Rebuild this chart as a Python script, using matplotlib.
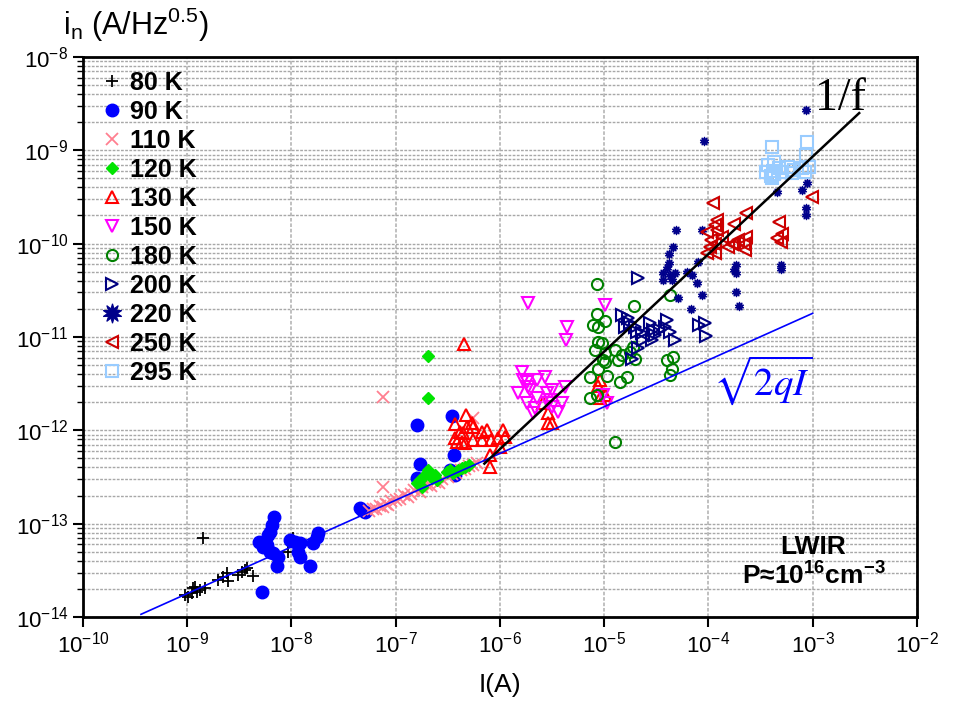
import matplotlib
matplotlib.use("Agg")
import matplotlib.pyplot as plt
from matplotlib import ticker

plt.rcParams["font.family"] = ["Liberation Sans", "DejaVu Sans"]
plt.rcParams["mathtext.fontset"] = "custom"
plt.rcParams["mathtext.rm"] = "Liberation Sans"
plt.rcParams["mathtext.it"] = "Liberation Sans:italic"
plt.rcParams["mathtext.bf"] = "Liberation Sans:bold"

# ---- data (I in A, i_n in A/Hz^0.5) ----
I_80 = [9.5e-10, 1.02e-9, 1.11e-9, 1.13e-9, 1.19e-9, 1.24e-9, 1.32e-9, 1.48e-9, 1.97e-9, 2.2e-9,
        2.4e-9, 2.45e-9, 3.06e-9, 3.35e-9, 3.57e-9, 3.74e-9, 4.27e-9, 1.41e-9, 1.03e-8, 9.2e-9]
n_80 = [1.72e-14, 1.64e-14, 1.81e-14, 2.05e-14, 2.1e-14, 1.85e-14, 1.95e-14, 2.05e-14, 2.49e-14, 2.68e-14,
        2.96e-14, 2.43e-14, 2.82e-14, 3.04e-14, 3.19e-14, 3.35e-14, 2.75e-14, 7.0e-14, 7.0e-14, 4.97e-14]

I_90 = [6.8e-9, 6.5e-9, 6.2e-9, 5.9e-9, 4.9e-9, 5.3e-9, 5.8e-9, 6.2e-9, 6.6e-9, 7.4e-9, 7.2e-9, 5.2e-9,
        9.7e-9, 1.08e-8, 1.2e-8, 1.15e-8, 1.2e-8, 1.5e-8, 1.6e-8, 1.75e-8, 1.79e-8, 4.5e-8, 5.1e-8, 4.8e-8,
        1.6e-7, 1.7e-7, 1.6e-7, 3.5e-7, 3.6e-7, 3.7e-7, 3.3e-7]
n_90 = [1.18e-13, 9.7e-14, 8.1e-14, 7.6e-14, 6.4e-14, 5.6e-14, 5.9e-14, 5.0e-14, 4.85e-14, 4.4e-14, 3.5e-14, 1.85e-14,
        6.7e-14, 6.4e-14, 6.2e-14, 5.0e-14, 4.4e-14, 3.5e-14, 6.2e-14, 7.2e-14, 7.9e-14, 1.47e-13, 1.33e-13, 1.4e-13,
        1.14e-12, 4.4e-13, 3.1e-13, 1.43e-12, 5.4e-13, 3.3e-13, 3.8e-13]

I_110 = [5.5e-8, 6.0e-8, 6.5e-8, 7.0e-8, 7.5e-8, 8.0e-8, 8.5e-8, 9.0e-8, 1.0e-7, 1.1e-7, 1.2e-7, 1.3e-7,
         1.4e-7, 1.5e-7, 1.7e-7, 1.8e-7, 2.0e-7, 2.2e-7, 2.4e-7, 2.6e-7, 2.8e-7, 3.2e-7, 3.5e-7, 3.8e-7,
         4.2e-7, 4.6e-7, 5.0e-7, 5.5e-7, 6.0e-7, 7.5e-8, 7.5e-8, 5.5e-7]
n_110 = [1.38e-13, 1.45e-13, 1.42e-13, 1.55e-13, 1.5e-13, 1.62e-13, 1.58e-13, 1.75e-13, 1.8e-13, 1.85e-13, 2.05e-13, 1.95e-13,
         2.1e-13, 2.3e-13, 2.2e-13, 2.45e-13, 2.6e-13, 2.55e-13, 2.8e-13, 2.75e-13, 3.0e-13, 3.15e-13, 3.4e-13, 3.5e-13,
         3.75e-13, 3.9e-13, 4.1e-13, 4.3e-13, 4.5e-13, 2.28e-12, 2.5e-13, 1.36e-12]

I_120 = [1.6e-7, 1.7e-7, 1.82e-7, 1.99e-7, 2.03e-7, 2.22e-7, 2.37e-7, 2.48e-7, 1.78e-7, 3.09e-7, 3.3e-7,
         3.53e-7, 3.94e-7, 4.3e-7, 4.6e-7, 5.1e-7, 2.03e-7, 2.03e-7]
n_120 = [2.73e-13, 2.94e-13, 3.17e-13, 3.49e-13, 3.76e-13, 3.09e-13, 3.3e-13, 2.94e-13, 2.47e-13, 3.58e-13, 3.76e-13,
         3.49e-13, 3.76e-13, 3.95e-13, 4.05e-13, 4.26e-13, 6.3e-12, 2.22e-12]

I_130 = [4.5e-7, 4.7e-7, 3.7e-7, 4.8e-7, 5.4e-7, 5.5e-7, 4.1e-7, 4.4e-7, 3.7e-7, 3.85e-7, 4.3e-7, 4.6e-7,
         5.5e-7, 6.8e-7, 7.6e-7, 6.7e-7, 8.3e-7, 9.5e-7, 1.06e-6, 1.11e-6, 1.0e-6, 8.0e-7, 8.0e-7, 2.57e-6,
         2.87e-6, 2.87e-6, 3.14e-6, 9.1e-6, 8.7e-6, 9.1e-6, 1.01e-5]
n_130 = [8.4e-12, 1.46e-12, 1.17e-12, 1.09e-12, 1.2e-12, 1.09e-12, 9.6e-13, 9.4e-13, 8.3e-13, 7.5e-13, 7.5e-13, 7.3e-13,
         7.9e-13, 9.6e-13, 1.01e-12, 7.9e-13, 7.9e-13, 8.3e-13, 1.01e-12, 8.5e-13, 6.6e-13, 5.45e-13, 4.05e-13, 1.97e-12,
         1.54e-12, 1.2e-12, 1.2e-12, 3.47e-12, 2.99e-12, 2.22e-12, 2.4e-12]

I_150 = [1.85e-6, 4.37e-6, 4.27e-6, 1.03e-5, 1.62e-6, 1.66e-6, 1.81e-6, 1.85e-6, 1.93e-6, 1.48e-6, 2.25e-6, 2.69e-6,
         3.14e-6, 2.81e-6, 4.18e-6, 1.81e-6, 2.25e-6, 2.16e-6, 2.06e-6, 2.87e-6, 3.14e-6, 3.58e-6, 3.92e-6, 3.0e-6,
         9.7e-6, 1.06e-5]
n_150 = [2.32e-11, 1.28e-11, 9.3e-12, 2.21e-11, 4.23e-12, 3.47e-12, 3.3e-12, 2.92e-12, 2.71e-12, 2.52e-12, 3.47e-12, 3.73e-12,
         2.71e-12, 2.52e-12, 2.92e-12, 1.97e-12, 2.22e-12, 1.74e-12, 1.54e-12, 1.97e-12, 1.78e-12, 1.57e-12, 1.97e-12, 2.12e-12,
         2.4e-12, 1.97e-12]

I_180 = [8.5e-6, 1.92e-5, 8.5e-6, 1.03e-5, 7.8e-6, 8.7e-6, 8.7e-6, 9.5e-6, 8.1e-6, 1.01e-5, 1.26e-5, 9.7e-6,
         1.01e-5, 1.35e-5, 1.47e-5, 1.76e-5, 2.0e-5, 8.7e-6, 7.3e-6, 1.06e-5, 1.41e-5, 1.64e-5, 7.3e-6, 8.5e-6,
         1.26e-5, 1.88e-5, 4.25e-5, 3.97e-5, 4.54e-5, 4.44e-5, 4.25e-5]
n_180 = [3.71e-11, 2.15e-11, 1.77e-11, 1.49e-11, 1.35e-11, 1.28e-11, 8.9e-12, 8.6e-12, 7.3e-12, 6.8e-12, 7.3e-12, 5.7e-12,
         5.4e-12, 5.7e-12, 6.4e-12, 6.9e-12, 5.8e-12, 4.55e-12, 3.73e-12, 3.83e-12, 3.3e-12, 3.73e-12, 2.22e-12, 2.4e-12,
         7.5e-13, 7.8e-12, 2.83e-11, 5.7e-12, 6.1e-12, 4.55e-12, 3.93e-12]

I_200 = [1.5e-5, 1.68e-5, 1.57e-5, 1.76e-5, 1.96e-5, 2.05e-5, 2.29e-5, 2.34e-5, 2.73e-5, 2.92e-5, 3.05e-5, 2.85e-5,
         3.4e-5, 3.8e-5, 3.97e-5, 4.25e-5, 4.74e-5, 2.1e-5, 1.84e-5, 2.1e-5, 9.2e-5, 9.6e-5, 8.2e-5]
n_200 = [1.73e-11, 1.6e-11, 1.28e-11, 1.42e-11, 1.28e-11, 1.13e-11, 1.11e-11, 9.3e-12, 1.42e-11, 1.19e-11, 1.05e-11, 9.3e-12,
         1.19e-11, 1.28e-11, 1.53e-11, 1.13e-11, 9.3e-12, 7.6e-12, 5.8e-12, 4.3e-11, 1.42e-11, 1.03e-11, 1.35e-11]

I_220 = [8.6e-4, 9.0e-5, 4.6e-4, 8.0e-4, 8.9e-4, 8.7e-4, 8.6e-4, 4.85e-5, 8.6e-5, 4.6e-5, 4.15e-5, 4.15e-5,
         3.97e-5, 3.64e-5, 4.25e-5, 4.74e-5, 3.64e-5, 4.44e-5, 6.2e-5, 6.9e-5, 7.7e-5, 7.9e-5, 8.6e-5, 5.07e-5,
         6.75e-5, 1.86e-4, 1.78e-4, 1.86e-4, 1.86e-4, 1.99e-4, 5.0e-4, 5.0e-4]
n_220 = [2.72e-9, 1.26e-9, 3.59e-10, 3.77e-10, 4.49e-10, 2.42e-10, 2.04e-10, 1.41e-10, 1.41e-10, 9.2e-11, 7.8e-11, 6.2e-11,
         5.5e-11, 4.87e-11, 4.63e-11, 4.87e-11, 4.1e-11, 4.1e-11, 4.99e-11, 4.63e-11, 3.8e-11, 6.4e-11, 2.83e-11, 2.62e-11,
         2.0e-11, 5.9e-11, 5.2e-11, 4.87e-11, 3.04e-11, 2.15e-11, 5.9e-11, 5.4e-11]

I_250 = [1.1e-4, 2.32e-4, 1.2e-4, 1.15e-4, 1.78e-4, 9.8e-5, 1.22e-4, 1.34e-4, 1.07e-4, 2.32e-4, 1.91e-4, 1.03e-4,
         1.15e-4, 1.67e-4, 1.53e-4, 1.78e-4, 2.22e-4, 2.27e-4, 9.8e-5, 1.15e-4, 4.8e-4, 5.1e-4, 4.6e-4, 5.0e-4, 9.8e-4]
n_250 = [2.74e-10, 2.14e-10, 1.8e-10, 1.59e-10, 1.63e-10, 1.34e-10, 1.41e-10, 1.18e-10, 1.1e-10, 1.18e-10, 1.1e-10, 9.2e-11,
         9.95e-11, 9.95e-11, 9.2e-11, 1.0e-10, 9.95e-11, 8.6e-11, 7.97e-11, 7.97e-11, 1.71e-10, 1.27e-10, 1.15e-10, 1.04e-10, 3.18e-10]

I_295 = [4.04e-4, 8.9e-4, 8.6e-4, 4.3e-4, 3.7e-4, 3.61e-4, 4.13e-4, 4.8e-4, 5.75e-4, 6.7e-4, 8.0e-4, 4.04e-4,
         4.3e-4, 5.1e-4, 6.4e-4, 8.4e-4, 9.3e-4, 4.0e-4]
n_295 = [1.09e-9, 1.23e-9, 8.95e-10, 7.5e-10, 7.0e-10, 5.9e-10, 6.0e-10, 6.5e-10, 6.65e-10, 6.2e-10, 6.5e-10, 5.1e-10,
         5.5e-10, 5.9e-10, 5.7e-10, 5.9e-10, 6.65e-10, 5.3e-10]

# guide lines (end points)
shot_I = [3.6e-10, 1.0e-3]
shot_n = [1.07e-14, 1.79e-11]
flicker_I = [7.1e-7, 2.8e-3]
flicker_n = [4.4e-13, 2.5e-9]

x_ticks = [1e-10, 1e-9, 1e-8, 1e-7, 1e-6, 1e-5, 1e-4, 1e-3, 1e-2]
y_ticks = [1e-14, 1e-13, 1e-12, 1e-11, 1e-10, 1e-9, 1e-8]

series = [
    ("80 K", I_80, n_80, dict(marker="+", color="black", ms=9, mew=1.3)),
    ("90 K", I_90, n_90, dict(marker="o", color="#0000FF", ms=9, mec="#0000FF")),
    ("110 K", I_110, n_110, dict(marker="x", color="#FF7F90", ms=8, mew=1.3)),
    ("120 K", I_120, n_120, dict(marker="D", color="#00E400", ms=6)),
    ("130 K", I_130, n_130, dict(marker="^", color="#FF0000", mfc="none", ms=8, mew=1.5)),
    ("150 K", I_150, n_150, dict(marker="v", color="#FF00FF", mfc="none", ms=8, mew=1.5)),
    ("180 K", I_180, n_180, dict(marker="o", color="#008000", mfc="none", ms=8, mew=1.5)),
    ("200 K", I_200, n_200, dict(marker=">", color="#000080", mfc="none", ms=8, mew=1.5)),
    ("220 K", I_220, n_220, dict(marker=(10, 1, 0), color="#00008B", ms=6.5, mew=0.8)),
    ("250 K", I_250, n_250, dict(marker="<", color="#CC0000", mfc="none", ms=8, mew=1.5)),
    ("295 K", I_295, n_295, dict(marker="s", color="#99CCFF", mfc="none", ms=8, mew=1.5)),
]

fig = plt.figure(figsize=(9.54, 7.02), dpi=100)
ax = fig.add_axes([0.087, 0.121, 0.874, 0.798])

for label, xs, ys, style in series:
    ax.plot(xs, ys, linestyle="none", label=label, zorder=3, **style)

ax.plot(shot_I, shot_n, color="#0000FF", lw=1.2, zorder=4)
ax.plot(flicker_I, flicker_n, color="black", lw=1.8, zorder=4)

ax.set_xscale("log")
ax.set_yscale("log")
ax.set_xlim(1e-10, 1e-2)
ax.set_ylim(1e-14, 1e-8)

ax.set_xticks(x_ticks)
ax.set_yticks(y_ticks)
ax.xaxis.set_minor_locator(ticker.NullLocator())
ax.yaxis.set_minor_locator(ticker.LogLocator(base=10, subs=range(2, 10), numticks=20))
ax.yaxis.set_minor_formatter(ticker.NullFormatter())

ax.grid(True, which="major", axis="x", color="#BBBBBB", lw=1.3, ls=(0, (2, 1)))
ax.grid(True, which="both", axis="y", color="#A8A8A8", lw=1.0, ls=(0, (2, 1)))
ax.set_axisbelow(True)

for s in ax.spines.values():
    s.set_linewidth(2)
ax.tick_params(which="major", direction="out", length=7, width=1.5, labelsize=16)
ax.tick_params(which="minor", direction="out", length=4, width=1.0)

ax.set_xlabel("I(A)", fontsize=19, labelpad=11)
fig.text(63 / 954, 1 - 25 / 702, r"i$_{\mathregular{n}}$ (A/Hz$^{\mathregular{0.5}}$)",
         fontsize=22, ha="left", va="center")

leg = ax.legend(loc="upper left", bbox_to_anchor=(0.0, 1.0), frameon=False,
                prop=dict(weight="bold", size=18), handletextpad=0.15,
                labelspacing=0.2, handlelength=1.2, borderaxespad=0.15)
leg.legend_handles[8].set_markersize(14)

ax.text(0.878, 0.905, "1/f", transform=ax.transAxes, fontsize=33,
        family="Liberation Serif", ha="left", va="baseline")
ax.text(0.756, 0.423, r"$\sqrt{2qI}$", transform=ax.transAxes, fontsize=28,
        color="#0000FF", math_fontfamily="stix", ha="left", va="center")
ax.text(0.876, 0.098, "LWIR\n" + r"P≈10$^{\mathbf{16}}$cm$^{\mathbf{-3}}$", transform=ax.transAxes,
        fontsize=19, weight="bold", ha="center", va="center", linespacing=1.15)

fig.savefig("out.png", dpi=100)
